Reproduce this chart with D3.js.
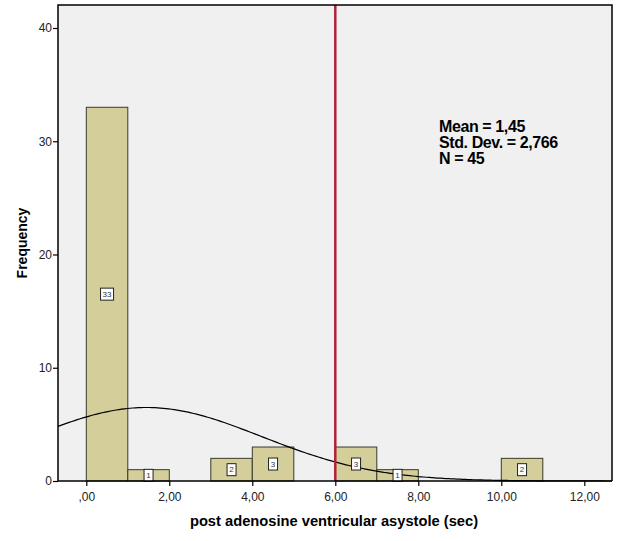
<!DOCTYPE html>
<html>
<head>
<meta charset="utf-8">
<script src="https://cdn.jsdelivr.net/npm/d3@7"></script>
<style>
  body { margin: 0; background: #fff; }
  svg { display: block; font-family: Arial, "Liberation Sans", sans-serif; }
</style>
</head>
<body>
<svg id="chart"></svg>
<script>
const width = 626;
const height = 541;

// Histogram bins (lower edge, upper edge) and counts
const binStarts = [0, 1, 3, 4, 6, 7, 10];
const binEnds = [1, 2, 4, 5, 7, 8, 11];
const counts = [33, 1, 2, 3, 3, 1, 2];

// Tick values/labels
const xTicks = [0, 2, 4, 6, 8, 10, 12];
const xTickLabels = [",00", "2,00", "4,00", "6,00", "8,00", "10,00", "12,00"];
const yTicks = [0, 10, 20, 30, 40];

// Summary stats shown in the plot
const statLines = ["Mean = 1,45", "Std. Dev. = 2,766", "N = 45"];
const mean = 1.45, sd = 2.766, n = 45, binWidth = 1;
const refLine = 6;

const svg = d3.select("#chart")
    .attr("width", width)
    .attr("height", height);

// Plot frame edges in pixels
const frameL = 58, frameR = 612, frameT = 5, frameB = 481;

const x = d3.scaleLinear().domain([0, 12]).range([86.3, 584.3]);
const y = d3.scaleLinear().domain([0, 40]).range([frameB, 28]);

// Background
svg.append("rect")
    .attr("x", frameL).attr("y", frameT)
    .attr("width", frameR - frameL).attr("height", frameB - frameT)
    .attr("fill", "#f0f0f0");

// Bars
const bars = binStarts.map((s, i) => ({ x0: s, x1: binEnds[i], count: counts[i] }));
svg.selectAll(".bar")
    .data(bars)
    .enter().append("rect")
    .attr("class", "bar")
    .attr("x", d => x(d.x0))
    .attr("y", d => y(d.count))
    .attr("width", d => x(d.x1) - x(d.x0))
    .attr("height", d => y(0) - y(d.count))
    .attr("fill", "#d3ce9a")
    .attr("stroke", "#3a3a2a")
    .attr("stroke-width", 1);

// Normal curve from the displayed mean / sd / N
const xMin = x.invert(frameL), xMax = x.invert(frameR);
const curvePts = d3.range(0, 201).map(i => {
    const v = xMin + (xMax - xMin) * i / 200;
    const z = (v - mean) / sd;
    return [v, n * binWidth * Math.exp(-0.5 * z * z) / (sd * Math.sqrt(2 * Math.PI))];
});
svg.append("path")
    .datum(curvePts)
    .attr("fill", "none")
    .attr("stroke", "#000")
    .attr("stroke-width", 1.2)
    .attr("d", d3.line().x(d => x(d[0])).y(d => y(d[1])));

// Reference line
svg.append("line")
    .attr("x1", x(refLine)).attr("x2", x(refLine))
    .attr("y1", frameT).attr("y2", frameB)
    .attr("stroke", "#b0213a")
    .attr("stroke-width", 2.5);

// Count labels at bar mid-height
const lab = svg.selectAll(".lab")
    .data(bars)
    .enter().append("g")
    .attr("class", "lab")
    .attr("transform", d => `translate(${x((d.x0 + d.x1) / 2)},${y(d.count / 2)})`);
lab.append("rect")
    .attr("x", d => d.count >= 10 ? -6.5 : -4.5)
    .attr("y", -6)
    .attr("width", d => d.count >= 10 ? 13 : 9)
    .attr("height", 12)
    .attr("fill", "#fff")
    .attr("stroke", "#222")
    .attr("stroke-width", 1);
lab.append("text")
    .attr("text-anchor", "middle")
    .attr("dy", "0.35em")
    .attr("font-size", 8)
    .attr("fill", "#333")
    .text(d => d.count);

// Frame: left, top, right; bottom axis line
svg.append("path")
    .attr("d", `M${frameL},${frameB}V${frameT}H${frameR}V${frameB}`)
    .attr("fill", "none")
    .attr("stroke", "#000")
    .attr("stroke-width", 1.5);

// X axis
const xAxis = svg.append("g")
    .attr("transform", `translate(0,${frameB})`)
    .call(d3.axisBottom(x).tickValues(xTicks).tickSize(5).tickSizeOuter(0)
        .tickFormat((d, i) => xTickLabels[i]));
xAxis.select(".domain").remove();
xAxis.append("line")
    .attr("x1", frameL).attr("x2", frameR)
    .attr("stroke", "#000").attr("stroke-width", 1.5);
xAxis.selectAll(".tick line").attr("stroke", "#000").attr("stroke-width", 1.2);
xAxis.selectAll(".tick text")
    .attr("font-size", 12)
    .attr("font-family", "Arial, 'Liberation Sans', sans-serif")
    .attr("fill", "#222")
    .attr("dy", "1.0em");

// Y axis
const yAxis = svg.append("g")
    .attr("transform", `translate(${frameL},0)`)
    .call(d3.axisLeft(y).tickValues(yTicks).tickSize(5).tickSizeOuter(0));
yAxis.select(".domain").remove();
yAxis.selectAll(".tick line").attr("stroke", "#000").attr("stroke-width", 1.2);
yAxis.selectAll(".tick text")
    .attr("font-size", 12)
    .attr("font-family", "Arial, 'Liberation Sans', sans-serif")
    .attr("fill", "#222")
    .attr("x", -6);

// Axis titles
svg.append("text")
    .attr("x", 334)
    .attr("y", 526)
    .attr("text-anchor", "middle")
    .attr("font-size", 14.7)
    .attr("font-weight", "bold")
    .text("post adenosine ventricular asystole (sec)");

svg.append("text")
    .attr("transform", `translate(27,${(frameT + frameB) / 2}) rotate(-90)`)
    .attr("text-anchor", "middle")
    .attr("font-size", 14)
    .attr("font-weight", "bold")
    .text("Frequency");

// Stats box text
svg.append("g")
    .selectAll("text")
    .data(statLines)
    .enter().append("text")
    .attr("x", 439)
    .attr("y", (d, i) => 132 + i * 16)
    .attr("font-size", 16)
    .attr("font-weight", "bold")
    .attr("letter-spacing", -0.4)
    .text(d => d);
</script>
</body>
</html>
